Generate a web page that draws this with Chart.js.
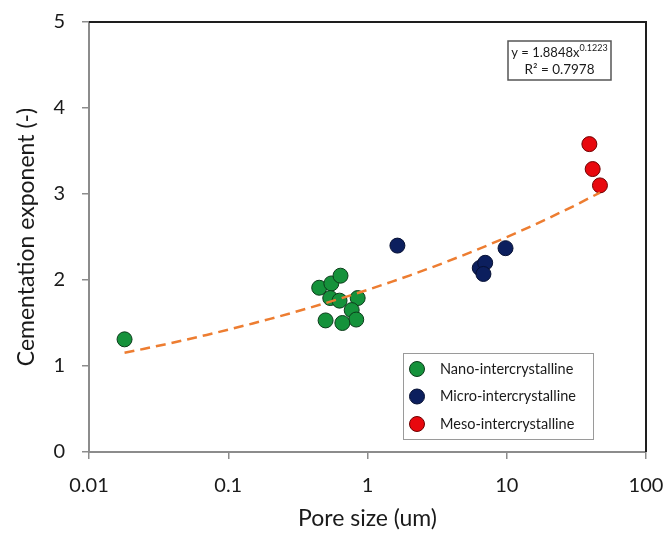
<!DOCTYPE html>
<html>
<head>
<meta charset="utf-8">
<script src="https://cdn.jsdelivr.net/npm/chart.js@4.4.1/dist/chart.umd.min.js"></script>
<style>
  html, body { margin: 0; padding: 0; background: #fff; }
  #wrap { width: 667px; height: 534px; }
</style>
</head>
<body>
<div id="wrap"><canvas id="chart" width="667" height="534"></canvas></div>
<script>
// pore size (um) vs cementation exponent, three pore types
const nanoX = [0.018, 0.45, 0.55, 0.64, 0.54, 0.63, 0.85, 0.77, 0.83, 0.50, 0.66];
const nanoY = [1.31, 1.91, 1.96, 2.05, 1.79, 1.76, 1.79, 1.65, 1.54, 1.53, 1.50];
const microX = [1.64, 6.4, 7.0, 6.8, 9.8];
const microY = [2.40, 2.14, 2.20, 2.07, 2.37];
const mesoX = [39.2, 41.4, 46.7];
const mesoY = [3.58, 3.29, 3.10];

// power-law trend y = a * x^b
const fitA = 1.8848;
const fitB = 0.1223;
const fitR2 = 0.7978;
const fitX = [0.018, 0.025, 0.035, 0.05, 0.07, 0.1, 0.15, 0.2, 0.3, 0.5, 0.7, 1,
              1.5, 2, 3, 5, 7, 10, 15, 20, 30, 46.7];

const xTicks = [0.01, 0.1, 1, 10, 100];
const yTicks = [0, 1, 2, 3, 4, 5];

const FONT = 'Lato, "Noto Sans", sans-serif';
const TEXT = '#1a1a1a';
const AXIS = '#8c8c8c';

function pts(xs, ys) {
    return xs.map((x, i) => ({ x: x, y: ys[i] }));
}

function fitPoints() {
    return fitX.map(x => ({ x: x, y: fitA * Math.pow(x, fitB) }));
}

// top and right sides of the plot frame
const framePlugin = {
    id: 'frame',
    afterDraw(chart) {
        const a = chart.chartArea;
        const ctx = chart.ctx;
        ctx.save();
        ctx.strokeStyle = '#1e1e1e';
        ctx.lineWidth = 2;
        ctx.beginPath();
        ctx.moveTo(a.left, a.top);
        ctx.lineTo(a.right, a.top);
        ctx.lineTo(a.right, a.bottom);
        ctx.stroke();
        ctx.restore();
    }
};

// equation box in the upper right
const eqPlugin = {
    id: 'equation',
    afterDraw(chart) {
        const a = chart.chartArea;
        const ctx = chart.ctx;
        const left = a.right - 138, top = a.top + 19, w = 103, h = 39;
        ctx.save();
        ctx.fillStyle = '#fff';
        ctx.fillRect(left, top, w, h);
        ctx.strokeStyle = '#555';
        ctx.lineWidth = 1.5;
        ctx.strokeRect(left, top, w, h);

        ctx.fillStyle = TEXT;
        ctx.textBaseline = 'middle';
        ctx.textAlign = 'left';
        const main = 'y = ' + fitA.toFixed(4) + 'x';
        const sup = fitB.toFixed(4);
        ctx.font = '13px ' + FONT;
        const mw = ctx.measureText(main).width;
        ctx.font = '9px ' + FONT;
        const sw = ctx.measureText(sup).width;
        const x0 = left + (w - mw - sw) / 2;
        ctx.font = '13px ' + FONT;
        ctx.fillText(main, x0, top + 12);
        ctx.font = '9px ' + FONT;
        ctx.fillText(sup, x0 + mw, top + 7.5);

        ctx.font = '13.5px ' + FONT;
        ctx.textAlign = 'center';
        ctx.fillText('R\u00b2 = ' + fitR2.toFixed(4), left + w / 2, top + 29);
        ctx.restore();
    }
};

// boxed legend in the lower right, built from the point datasets
const legendPlugin = {
    id: 'boxLegend',
    afterDraw(chart) {
        const a = chart.chartArea;
        const ctx = chart.ctx;
        const left = a.right - 243, top = a.bottom - 99, w = 190, h = 86;
        ctx.save();
        ctx.fillStyle = '#fff';
        ctx.fillRect(left, top, w, h);
        ctx.strokeStyle = '#9a9a9a';
        ctx.lineWidth = 1;
        ctx.strokeRect(left + 0.5, top + 0.5, w, h);

        const items = chart.data.datasets.filter(d => !d.isFit);
        items.forEach((d, i) => {
            const cy = top + 16 + i * 27.5;
            ctx.beginPath();
            ctx.arc(left + 14, cy, 7.5, 0, Math.PI * 2);
            ctx.fillStyle = d.backgroundColor;
            ctx.fill();
            ctx.lineWidth = 1;
            ctx.strokeStyle = d.borderColor;
            ctx.stroke();
            ctx.fillStyle = TEXT;
            ctx.font = '14.5px ' + FONT;
            ctx.textAlign = 'left';
            ctx.textBaseline = 'middle';
            ctx.fillText(d.label, left + 37, cy);
        });
        ctx.restore();
    }
};

const ctx = document.getElementById('chart');

new Chart(ctx, {
    type: 'scatter',
    data: {
        datasets: [
            {
                label: 'Fit',
                isFit: true,
                type: 'line',
                data: fitPoints(),
                borderColor: '#ed7d31',
                borderWidth: 2.5,
                borderDash: [10, 6],
                pointRadius: 0,
                fill: false,
                tension: 0,
                order: 0
            },
            {
                label: 'Nano-intercrystalline',
                data: pts(nanoX, nanoY),
                backgroundColor: '#15923b',
                borderColor: '#0b3b1a',
                borderWidth: 1,
                pointRadius: 7.5,
                order: 1
            },
            {
                label: 'Micro-intercrystalline',
                data: pts(microX, microY),
                backgroundColor: '#0c1f5e',
                borderColor: '#061033',
                borderWidth: 1,
                pointRadius: 7.5,
                order: 1
            },
            {
                label: 'Meso-intercrystalline',
                data: pts(mesoX, mesoY),
                backgroundColor: '#e8080e',
                borderColor: '#6e0000',
                borderWidth: 1,
                pointRadius: 7.5,
                order: 1
            }
        ]
    },
    options: {
        responsive: false,
        animation: false,
        layout: { padding: { left: 0, right: 21, top: 22, bottom: 0 } },
        plugins: {
            legend: { display: false },
            tooltip: { enabled: false }
        },
        scales: {
            x: {
                type: 'logarithmic',
                min: 0.01,
                max: 100,
                afterBuildTicks(scale) {
                    scale.ticks = xTicks.map(v => ({ value: v }));
                },
                afterFit(scale) {
                    scale.height = 82;
                    scale.paddingLeft = 0;
                    scale.paddingRight = 0;
                },
                border: { color: AXIS, width: 2 },
                grid: {
                    drawOnChartArea: false,
                    drawTicks: true,
                    tickLength: 7,
                    color: AXIS,
                    lineWidth: 1.5
                },
                ticks: {
                    color: TEXT,
                    font: { family: FONT, size: 20 },
                    padding: 15,
                    maxRotation: 0,
                    callback: v => String(v)
                },
                title: {
                    display: true,
                    text: 'Pore size (um)',
                    color: TEXT,
                    font: { family: FONT, size: 23 },
                    padding: { top: 2, bottom: 2 }
                }
            },
            y: {
                min: 0,
                max: 5,
                afterBuildTicks(scale) {
                    scale.ticks = yTicks.map(v => ({ value: v }));
                },
                afterFit(scale) {
                    scale.width = 89;
                    scale.paddingTop = 0;
                    scale.paddingBottom = 0;
                },
                border: { color: AXIS, width: 2 },
                grid: {
                    drawOnChartArea: false,
                    drawTicks: true,
                    tickLength: 7,
                    color: AXIS,
                    lineWidth: 1.5
                },
                ticks: {
                    color: TEXT,
                    font: { family: FONT, size: 20 },
                    padding: 17
                },
                title: {
                    display: true,
                    text: 'Cementation exponent (-)',
                    color: TEXT,
                    font: { family: FONT, size: 23 },
                    padding: { top: 13, bottom: 4 }
                }
            }
        }
    },
    plugins: [framePlugin, eqPlugin, legendPlugin]
});
</script>
</body>
</html>
